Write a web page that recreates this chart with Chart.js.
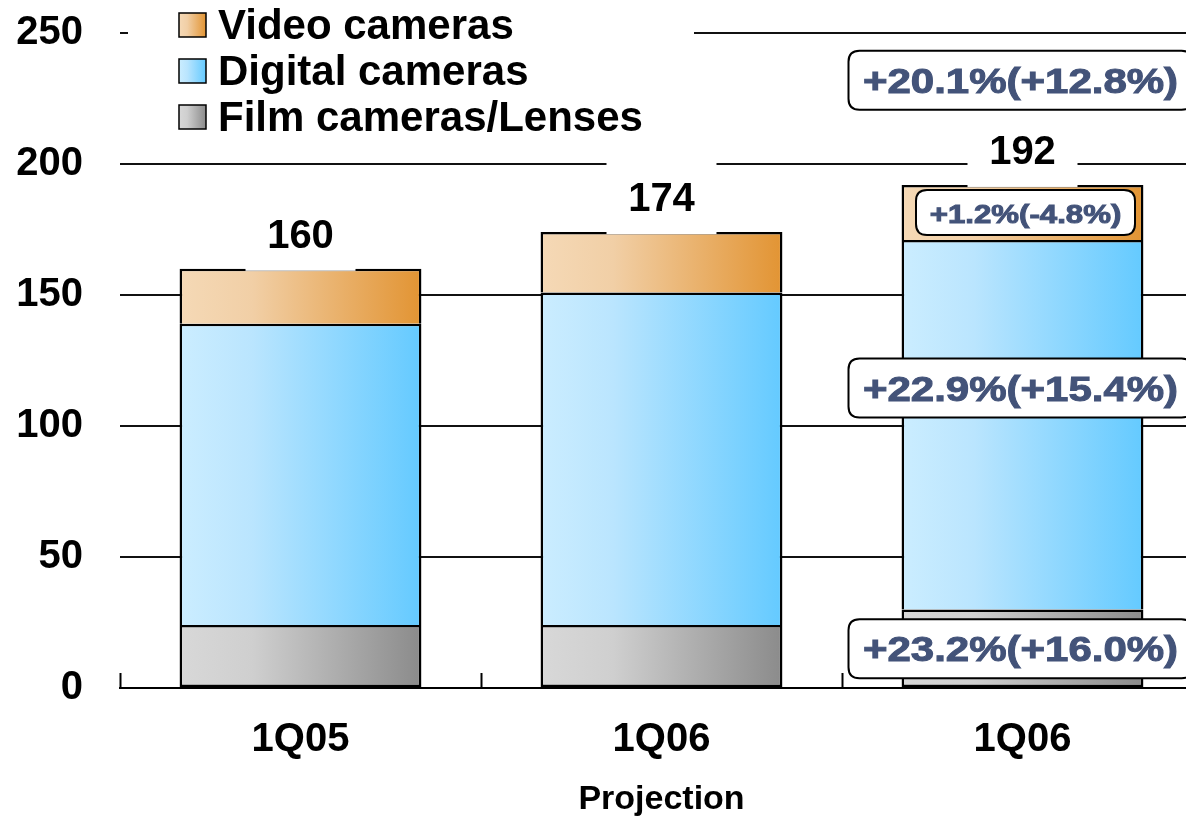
<!DOCTYPE html>
<html>
<head>
<meta charset="utf-8">
<script src="https://cdn.jsdelivr.net/npm/chart.js@4.4.1/dist/chart.umd.min.js"></script>
<style>
    html, body { margin: 0; padding: 0; overflow: hidden; background: #fff; }
    #wrap { width: 1203px; height: 822px; }
</style>
</head>
<body>
<div id="wrap"><canvas id="chart"></canvas></div>
<script>
const categories = ['1Q05', '1Q06', '1Q06'];
const subLabels = ['', 'Projection', ''];
const seriesNames = ['Video cameras', 'Digital cameras', 'Film cameras/Lenses'];
const filmValues = [24, 24, 30];
const digitalValues = [115, 127, 141];
const videoValues = [21, 23, 21];
const totals = [160, 174, 192];
const yTicks = [0, 50, 100, 150, 200, 250];
// growth of the last bar: total, video, digital, film
const growthLabels = ['+20.1%(+12.8%)', '+1.2%(-4.8%)', '+22.9%(+15.4%)', '+23.2%(+16.0%)'];

const FONT = '"Liberation Sans", Arial, sans-serif';
const BAR_PCT = 0.67;

const videoStops = ['#F5D9B6', '#F1CFA6', '#E29433'];
const digitalStops = ['#CBEDFF', '#BAE5FE', '#64CAFF'];
const filmStops = ['#D8D8D8', '#CFCFCF', '#8B8B8B'];

function makeGradient(c, x0, x1, stops) {
    const g = c.createLinearGradient(x0, 0, x1, 0);
    g.addColorStop(0, stops[0]);
    g.addColorStop(0.3, stops[1]);
    g.addColorStop(1, stops[2]);
    return g;
}

function barFill(stops) {
    return (ctx) => {
        const chart = ctx.chart;
        const x = chart.scales.x;
        if (!x || ctx.dataIndex === undefined) return stops[1];
        const center = x.getPixelForValue(ctx.dataIndex);
        const half = x.width / categories.length * BAR_PCT / 2;
        if (!isFinite(center) || !isFinite(half) || half <= 0) return stops[1];
        return makeGradient(chart.ctx, center - half, center + half, stops);
    };
}

function roundRect(c, x, y, w, h, r) {
    c.beginPath();
    c.moveTo(x + r, y);
    c.lineTo(x + w - r, y);
    c.quadraticCurveTo(x + w, y, x + w, y + r);
    c.lineTo(x + w, y + h - r);
    c.quadraticCurveTo(x + w, y + h, x + w - r, y + h);
    c.lineTo(x + r, y + h);
    c.quadraticCurveTo(x, y + h, x, y + h - r);
    c.lineTo(x, y + r);
    c.quadraticCurveTo(x, y, x + r, y);
    c.closePath();
}

const overlayPlugin = {
    id: 'overlay',
    afterDraw(chart) {
        const c = chart.ctx;
        const xs = chart.scales.x;
        const ys = chart.scales.y;
        c.save();

        // legend with white backing over the top gridline
        c.fillStyle = '#fff';
        c.fillRect(128, 0, 566, 142);
        const stopsList = [videoStops, digitalStops, filmStops];
        const legendY = [25, 71, 117];
        seriesNames.forEach((name, i) => {
            const y = legendY[i];
            c.fillStyle = makeGradient(c, 179, 206, stopsList[i]);
            c.fillRect(179, y - 12, 27, 24);
            c.strokeStyle = '#000';
            c.lineWidth = 1.5;
            c.strokeRect(179, y - 12, 27, 24);
            c.fillStyle = '#000';
            c.font = 'bold 42px ' + FONT;
            c.textAlign = 'left';
            c.textBaseline = 'middle';
            c.fillText(name, 218, y + 2);
        });

        // totals above the bars
        const topMeta = chart.getDatasetMeta(2);
        totals.forEach((t, i) => {
            const bar = topMeta.data[i];
            const cy = bar.y - 34;
            c.fillStyle = '#fff';
            c.fillRect(bar.x - 55, cy - 36, 110, 72);
            c.fillStyle = '#000';
            c.font = 'bold 40px ' + FONT;
            c.textAlign = 'center';
            c.textBaseline = 'middle';
            c.fillText(String(t), bar.x, cy + 2);
        });

        // second line under the category labels
        subLabels.forEach((s, i) => {
            if (!s) return;
            c.fillStyle = '#000';
            c.font = 'bold 34px ' + FONT;
            c.textAlign = 'center';
            c.textBaseline = 'middle';
            c.fillText(s, xs.getPixelForValue(i), 800);
        });

        // growth call-outs on the last bar
        const last = categories.length - 1;
        const bx = topMeta.data[last].x - 2;
        const calls = [
            { text: growthLabels[0], y: ys.getPixelForValue(232), w: 344, h: 59, size: 35 },
            { text: growthLabels[1], y: ys.getPixelForValue(filmValues[last] + digitalValues[last] + videoValues[last] / 2), w: 219, h: 45, size: 26 },
            { text: growthLabels[2], y: ys.getPixelForValue(114.5), w: 344, h: 59, size: 35 },
            { text: growthLabels[3], y: ys.getPixelForValue(filmValues[last] / 2), w: 344, h: 59, size: 35 }
        ];
        calls.forEach((a, i) => {
            const cx = i === 1 ? bx + 5 : bx;
            roundRect(c, cx - a.w / 2, a.y - a.h / 2, a.w, a.h, 11);
            c.fillStyle = '#fff';
            c.fill();
            c.strokeStyle = '#000';
            c.lineWidth = 2;
            c.stroke();
            c.save();
            c.translate(cx, a.y + 3);
            c.scale(1.2, 1);
            c.fillStyle = '#435379';
            c.strokeStyle = '#435379';
            c.lineWidth = 1;
            c.font = 'bold ' + a.size + 'px ' + FONT;
            c.textAlign = 'center';
            c.textBaseline = 'middle';
            c.fillText(a.text, 0, 0);
            c.strokeText(a.text, 0, 0);
            c.restore();
        });

        c.restore();
    }
};

const segmentBorder = (bottom) => ({ top: 2.5, left: 2.5, right: 2.5, bottom: bottom });

new Chart(document.getElementById('chart'), {
    type: 'bar',
    data: {
        labels: categories,
        datasets: [
            {
                label: seriesNames[2],
                data: filmValues,
                backgroundColor: barFill(filmStops),
                borderColor: '#000',
                borderWidth: segmentBorder(2.5),
                borderSkipped: false
            },
            {
                label: seriesNames[1],
                data: digitalValues,
                backgroundColor: barFill(digitalStops),
                borderColor: '#000',
                borderWidth: segmentBorder(0),
                borderSkipped: false
            },
            {
                label: seriesNames[0],
                data: videoValues,
                backgroundColor: barFill(videoStops),
                borderColor: '#000',
                borderWidth: segmentBorder(0),
                borderSkipped: false
            }
        ]
    },
    options: {
        responsive: true,
        maintainAspectRatio: false,
        animation: false,
        layout: { padding: { left: 16, top: 33, right: 0, bottom: 15 } },
        datasets: { bar: { categoryPercentage: 1, barPercentage: BAR_PCT } },
        plugins: {
            legend: { display: false },
            tooltip: { enabled: false }
        },
        scales: {
            x: {
                stacked: true,
                grid: {
                    offset: true,
                    drawOnChartArea: false,
                    drawTicks: true,
                    tickLength: -15,
                    tickWidth: 2,
                    tickColor: '#000'
                },
                border: { display: true, color: '#000', width: 2 },
                ticks: {
                    color: '#000',
                    padding: 43,
                    font: { family: FONT, size: 40, weight: 'bold' }
                }
            },
            y: {
                stacked: true,
                min: 0,
                max: 250,
                afterBuildTicks: (scale) => {
                    scale.ticks = yTicks.map(v => ({ value: v }));
                },
                afterFit: (scale) => {
                    scale.width = 104;
                    scale.paddingTop = 0;
                    scale.paddingBottom = 0;
                },
                grid: {
                    color: '#111',
                    lineWidth: 2,
                    drawTicks: false
                },
                border: { display: false },
                ticks: {
                    color: '#000',
                    padding: 37,
                    font: { family: FONT, size: 40, weight: 'bold' }
                }
            }
        }
    },
    plugins: [overlayPlugin]
});
</script>
</body>
</html>
